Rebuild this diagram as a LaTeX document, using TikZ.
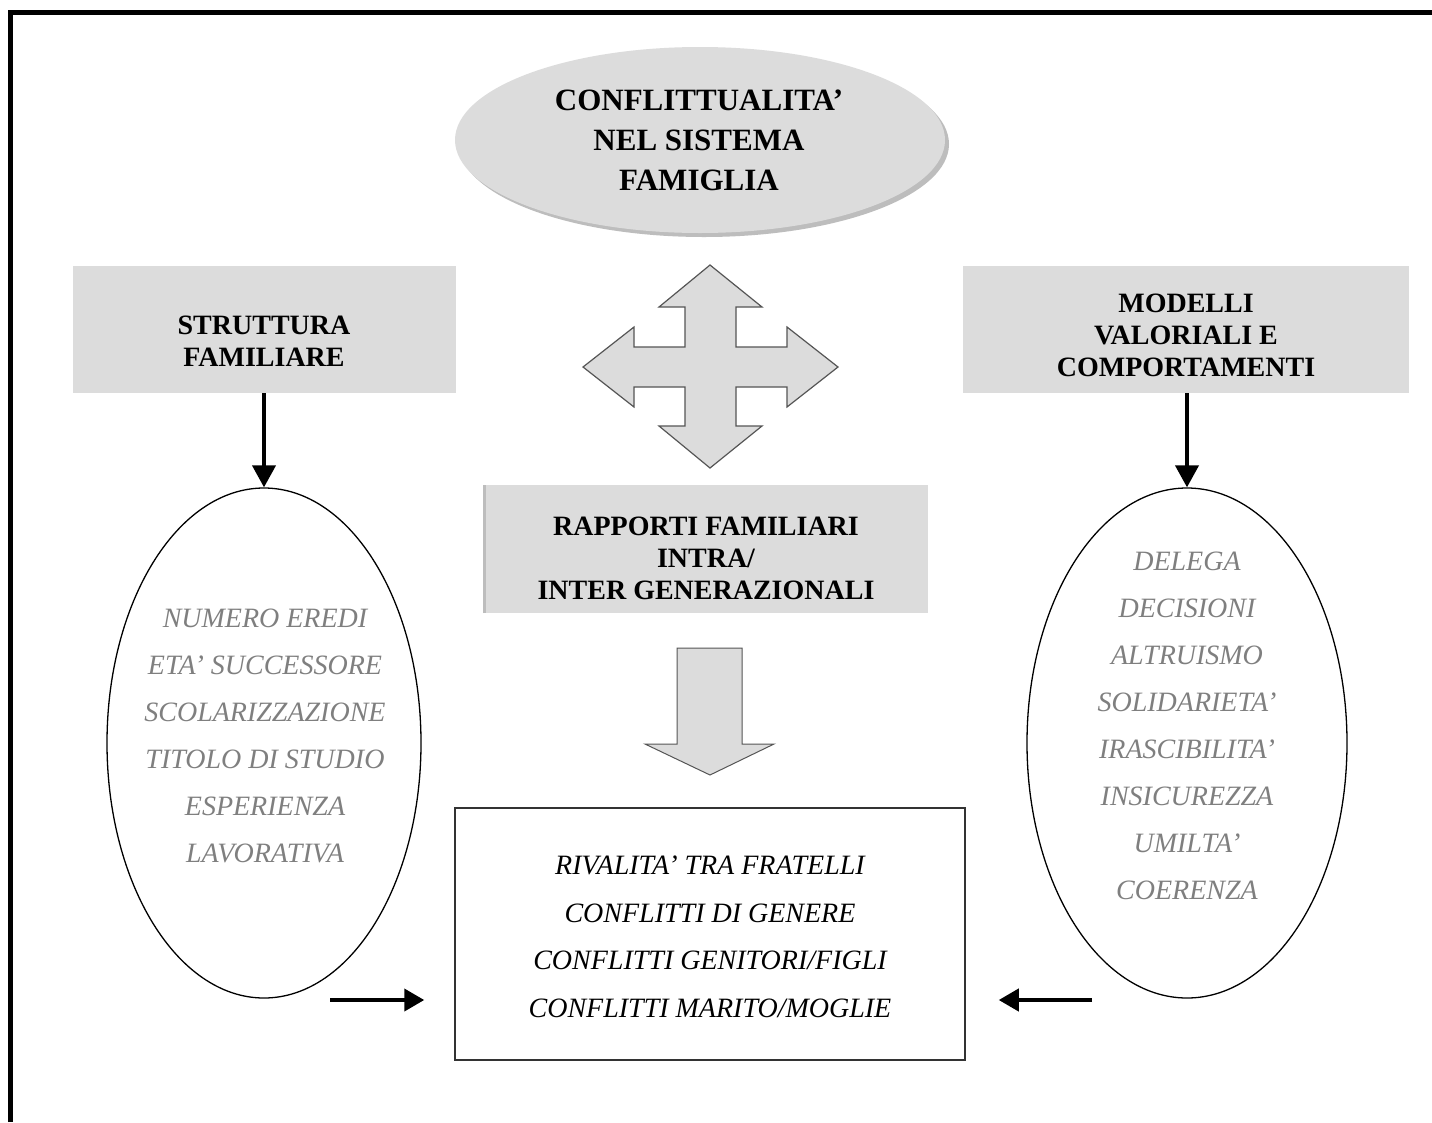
\documentclass[tikz,border=0pt]{standalone}
\usepackage{fontspec}
\setmainfont{Liberation Serif}
\usetikzlibrary{shapes.geometric,arrows.meta}
\definecolor{boxgray}{HTML}{DCDCDC}
\definecolor{shadowgray}{HTML}{BDBDBD}
\definecolor{txtgray}{HTML}{7F7F7F}
\definecolor{edgegray}{HTML}{555555}
\begin{document}
\begin{tikzpicture}[x=1pt,y=-1pt,
  graybox/.style={rectangle,fill=boxgray,draw=none,inner sep=0pt},
  btext/.style={font=\fontsize{28}{32}\selectfont\bfseries,align=center,inner sep=0pt},
  ttext/.style={font=\fontsize{31}{40}\selectfont\bfseries,align=center,inner sep=0pt},
  gtext/.style={font=\fontsize{28}{47}\selectfont\itshape,text=txtgray,align=center,inner sep=0pt},
  ktext/.style={font=\fontsize{28}{47.5}\selectfont\itshape,text=black,align=center,inner sep=0pt},
  oval/.style={ellipse,draw=black,line width=1.3pt,fill=white,inner sep=0pt},
  thickarr/.style={line width=4pt,-{Triangle[length=22pt,width=23pt]}},
  blockshape/.style={fill=boxgray,draw=edgegray,line width=1.2pt,line join=miter}
]
\useasboundingbox (0,0) rectangle (1432,1122);
\fill[white] (0,0) rectangle (1432,1122);
% frame (top and left edges)
\draw[line width=5pt] (10,1122) -- (10,12.5) -- (1432,12.5);

% top ellipse
\node[ellipse,fill=shadowgray,minimum width=490pt,minimum height=186pt,inner sep=0pt] (topsh) at (704,144) {};
\node[ellipse,fill=boxgray,minimum width=490pt,minimum height=186pt,inner sep=0pt] (top) at (700,140) {};
\node[ttext] (toptxt) at (699,140) {CONFLITTUALITA’\\NEL SISTEMA\\FAMIGLIA};

% side boxes
\node[graybox,minimum width=383pt,minimum height=127pt] (strut) at (264.5,329.5) {};
\node[btext] (struttxt) at (264,341) {STRUTTURA\\FAMILIARE};
\node[graybox,minimum width=446pt,minimum height=127pt] (mod) at (1186,329.5) {};
\node[btext] (modtxt) at (1186,335) {MODELLI\\VALORIALI E\\COMPORTAMENTI};

% middle box
\node[graybox,minimum width=445pt,minimum height=128pt] (rap) at (705.5,549) {};
\draw[line width=3pt,draw=shadowgray] (rap.south west) ++(1.5pt,0) -- ([xshift=1.5pt]rap.north west);
\node[btext] (raptxt) at (706,558) {RAPPORTI FAMILIARI\\INTRA/\\INTER GENERAZIONALI};

% four-way arrow
\draw[blockshape] (710,265) -- (762,307) -- (736,307) -- (736,347) -- (787,347) -- (787,327)
  -- (838,367) -- (787,407) -- (787,387) -- (736,387) -- (736,426) -- (762,426)
  -- (710,468) -- (659,426) -- (685,426) -- (685,387) -- (634,387) -- (634,407)
  -- (583,367) -- (634,327) -- (634,347) -- (685,347) -- (685,307) -- (659,307) -- cycle;

% down block arrow
\draw[blockshape,draw=edgegray,line width=1pt] (677,648) -- (742,648) -- (742,744) -- (774,744) -- (710,775) -- (645,744) -- (677,744) -- cycle;

% ovals
\node[oval,minimum width=314pt,minimum height=510pt] (lell) at (264,743) {};
\node[gtext] (lelltxt) at (265,736) {NUMERO EREDI\\ETA’ SUCCESSORE\\SCOLARIZZAZIONE\\TITOLO DI STUDIO\\ESPERIENZA\\LAVORATIVA};
\node[oval,minimum width=320pt,minimum height=510pt] (rell) at (1187,743) {};
\node[gtext] (relltxt) at (1187,726) {DELEGA\\DECISIONI\\ALTRUISMO\\SOLIDARIETA’\\IRASCIBILITA’\\INSICUREZZA\\UMILTA’\\COERENZA};

% result box
\node[rectangle,draw=black!80,line width=1.5pt,fill=white,minimum width=510pt,minimum height=252pt,inner sep=0pt] (res) at (710,934) {};
\node[ktext] (restxt) at (710,937) {RIVALITA’ TRA FRATELLI\\CONFLITTI DI GENERE\\CONFLITTI GENITORI/FIGLI\\CONFLITTI MARITO/MOGLIE};

% connectors
\draw[thickarr] (strut.south -| lell.north) -- (lell.north);
\draw[thickarr] (mod.south -| rell.north) -- (rell.north);
\coordinate (la) at (330,1000);
\coordinate (ra) at (1092,1000);
\draw[thickarr,-{Triangle[length=20pt,width=22pt]}] (la) -- ([xshift=-30pt]la -| res.west);
\draw[thickarr,-{Triangle[length=20pt,width=22pt]}] (ra) -- ([xshift=33pt]ra -| res.east);
\end{tikzpicture}
\end{document}
